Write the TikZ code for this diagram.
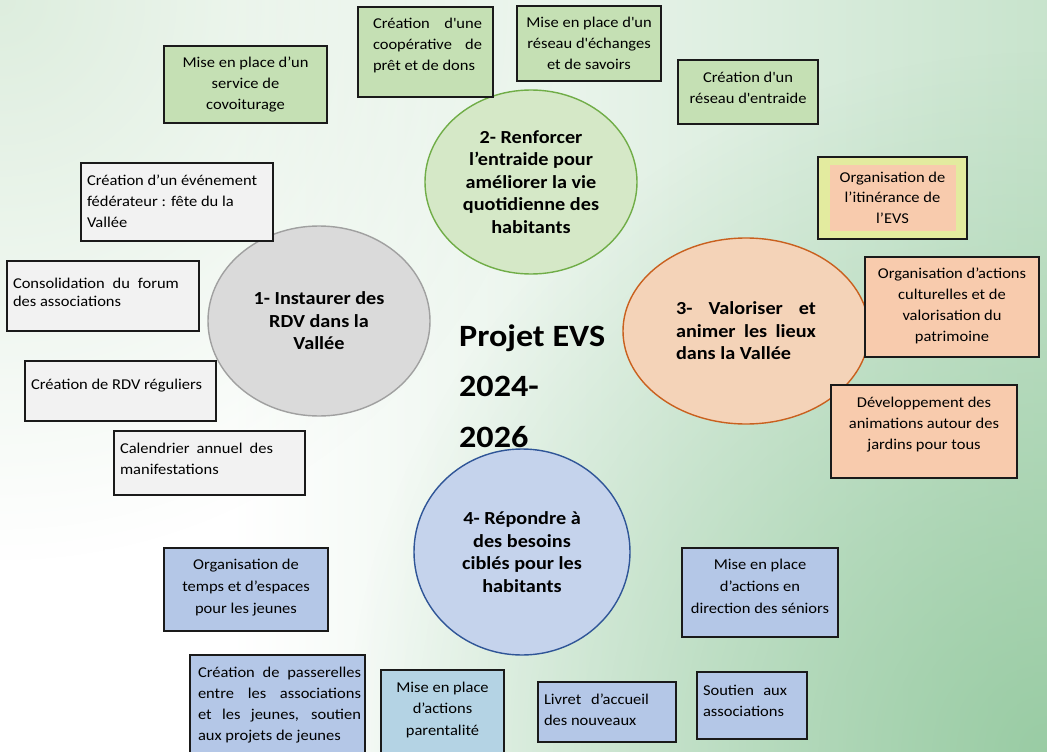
\documentclass[tikz,border=0pt]{standalone}
\usepackage{fontspec}
\setmainfont{Carlito}[FakeStretch=1.1]
\usetikzlibrary{shapes.geometric,fadings}
\definecolor{bgB}{HTML}{DBEDDE}
\definecolor{bgC}{HTML}{A2D1AB}
\definecolor{bgD}{HTML}{8EC69A}
\definecolor{bgTL}{HTML}{CFE6D0}
\definecolor{boxline}{HTML}{1A1A1A}
\definecolor{gfill}{HTML}{C5E0B4}
\definecolor{gell}{HTML}{D5E8C7}
\definecolor{gline}{HTML}{70AD47}
\definecolor{grfill}{HTML}{F2F2F2}
\definecolor{grell}{HTML}{DADADA}
\definecolor{grline}{HTML}{A0A0A0}
\definecolor{ofill}{HTML}{F8CBAD}
\definecolor{oell}{HTML}{F4D3B8}
\definecolor{oline}{HTML}{C9601E}
\definecolor{yfill}{HTML}{E3EB9F}
\definecolor{bfill}{HTML}{B4C7E7}
\definecolor{bell}{HTML}{C5D3EC}
\definecolor{bline}{HTML}{2F5597}
\definecolor{cfill}{HTML}{B4D3E4}
\pgfdeclarehorizontalshading{bgh}{100bp}{color(0bp)=(white); color(36bp)=(white); color(62bp)=(bgB); color(100bp)=(bgC)}
\tikzfading[name=tlfade, inner color=transparent!30, outer color=transparent!100]
\tikzfading[name=brfade, inner color=transparent!20, outer color=transparent!100]
\newcommand\sq{\textquotesingle}
% W, H, left pad, text width, first baseline, alignment, text
\newcommand\bx[7]{\parbox[c][#2pt][t]{#1pt}{\noindent\hspace*{#3pt}\parbox[t]{#4pt}{#6\rule{0pt}{#5pt}#7}}}
\begin{document}
\begin{tikzpicture}[x=1pt,y=-1pt,
  box/.style={draw=boxline, line width=1.1pt, inner sep=0pt, font=\fontsize{15}{21}\selectfont},
  gbox/.style={box, fill=gfill},
  grbox/.style={box, fill=grfill},
  obox/.style={box, fill=ofill},
  bbox/.style={box, fill=bfill},
  oval/.style={ellipse, inner sep=0pt, line width=1.4pt, align=center,
    font=\bfseries\fontsize{18.4}{22.5}\selectfont},
  titlefont/.style={font=\bfseries\fontsize{31}{50.5}\selectfont}]
\useasboundingbox (0,0) rectangle (1047,752);
% background
\shade[shading=bgh] (0,0) rectangle (1047,752);
\begin{scope}
\clip (0,0) rectangle (1047,752);
\fill[bgTL, path fading=tlfade] (0,0) circle (560);
\fill[bgD, path fading=brfade] (1047,752) circle (700);
\end{scope}

% ellipses
\node[oval, draw=gline, fill=gell, minimum width=212, minimum height=184] (e2) at (531,182)
  {2- Renforcer\\ l’entraide pour\\ améliorer la vie\\ quotidienne des\\ habitants};
\node[oval, draw=grline, fill=grell, minimum width=222, minimum height=190] (e1) at (319,321)
  {1- Instaurer des\\ RDV dans la\\ Vallée};
\node[oval, draw=oline, fill=oell, minimum width=246, minimum height=186] (e3) at (746,331)
  {\parbox{140pt}{3-\ \ Valoriser\ \ et\linebreak animer les lieux\linebreak dans la Vallée}};
\node[oval, draw=bline, fill=bell, minimum width=216, minimum height=206] (e4) at (522,552)
  {4- Répondre à\\ des besoins\\ ciblés pour les\\ habitants};

% green boxes
\node[gbox, minimum width=163, minimum height=77] (g1) at (245.5,84.5)
  {\bx{163}{77}{6.5}{150}{21}{\centering}{Mise en place d’un\\ service de\\ covoiturage}};
\node[gbox, minimum width=135, minimum height=90] (g2) at (425.5,52)
  {\bx{135}{90}{15}{109}{22}{}{Création d\sq une\linebreak coopérative de\linebreak prêt et de dons}};
\node[gbox, minimum width=144, minimum height=75] (g3) at (589,43.5)
  {\bx{144}{75}{2}{140}{22}{\centering}{Mise en place d\sq un\\ réseau d\sq échanges\\ et de savoirs}};
\node[gbox, minimum width=140, minimum height=64] (g4) at (748,92)
  {\bx{140}{64}{2}{136}{22}{\centering}{Création d\sq un\\ réseau d\sq entraide}};

% grey boxes
\node[grbox, minimum width=192, minimum height=78] (r1) at (177,202)
  {\bx{192}{78}{6}{182}{22}{\raggedright}{Création d’un événement\\ fédérateur : fête du la\\ Vallée}};
\node[grbox, minimum width=192, minimum height=70] (r2) at (103,296)
  {\bx{192}{70}{6}{166}{27}{\fontsize{15}{18}\selectfont}{Consolidation du forum\linebreak des associations}};
\node[grbox, minimum width=191, minimum height=60] (r3) at (120.5,391)
  {\bx{191}{60}{6}{185}{28}{\raggedright}{Création de RDV réguliers}};
\node[grbox, minimum width=191, minimum height=64] (r4) at (209.5,463)
  {\bx{191}{64}{6}{153}{22}{}{Calendrier annuel des\linebreak manifestations}};

% orange boxes
\node[box, line width=1.8pt, fill=yfill, minimum width=149, minimum height=82,
  path picture={\fill[ofill] ([shift={(12,8)}]path picture bounding box.north west) rectangle ([shift={(-11,-8)}]path picture bounding box.south east);}] (o1) at (892.5,198)
  {\bx{149}{82}{11.5}{126}{25}{\fontsize{15}{20.5}\selectfont\centering}{Organisation de\\ l’itinérance de\\ l’EVS}};
\node[obox, minimum width=174, minimum height=100] (o2) at (952,307)
  {\bx{174}{100}{3}{168}{21}{\centering}{Organisation d’actions\\ culturelles et de\\ valorisation du\\ patrimoine}};
\node[obox, minimum width=186, minimum height=93] (o3) at (924,431.5)
  {\bx{186}{93}{3}{180}{22}{\centering}{Développement des\\ animations autour des\\ jardins pour tous}};

% blue boxes
\node[bbox, minimum width=164, minimum height=83] (b1) at (246,589.5)
  {\bx{164}{83}{3}{158}{21}{\fontsize{15}{22}\selectfont\centering}{Organisation de\\ temps et d’espaces\\ pour les jeunes}};
\node[bbox, minimum width=175, minimum height=105] (b2) at (277.5,707.5)
  {\bx{175}{105}{8}{163}{22}{}{Création de passerelles\linebreak entre les associations\linebreak et les jeunes, soutien\linebreak aux projets de jeunes}};
\node[box, fill=cfill, minimum width=123, minimum height=90] (b3) at (442.5,715)
  {\bx{123}{90}{1.5}{120}{22}{\fontsize{15}{21.5}\selectfont\centering}{Mise en place\\ d’actions\\ parentalité}};
\node[bbox, minimum width=138, minimum height=60] (b4) at (607,712)
  {\bx{138}{60}{6}{105}{22}{}{Livret d’accueil\linebreak des nouveaux}};
\node[bbox, minimum width=110, minimum height=67] (b5) at (752,705.5)
  {\bx{110}{67}{6}{84}{23}{}{Soutien aux\linebreak associations}};
\node[bbox, minimum width=156, minimum height=89] (b6) at (760,592.5)
  {\bx{156}{89}{3}{150}{21}{\fontsize{15}{22}\selectfont\centering}{Mise en place\\ d’actions en\\ direction des séniors}};

% title
\node[titlefont, anchor=base west, inner sep=0pt] (title) at (459,346)
  {\parbox[t]{170pt}{Projet EVS\\ 2024-\\ 2026}};
\end{tikzpicture}
\end{document}
